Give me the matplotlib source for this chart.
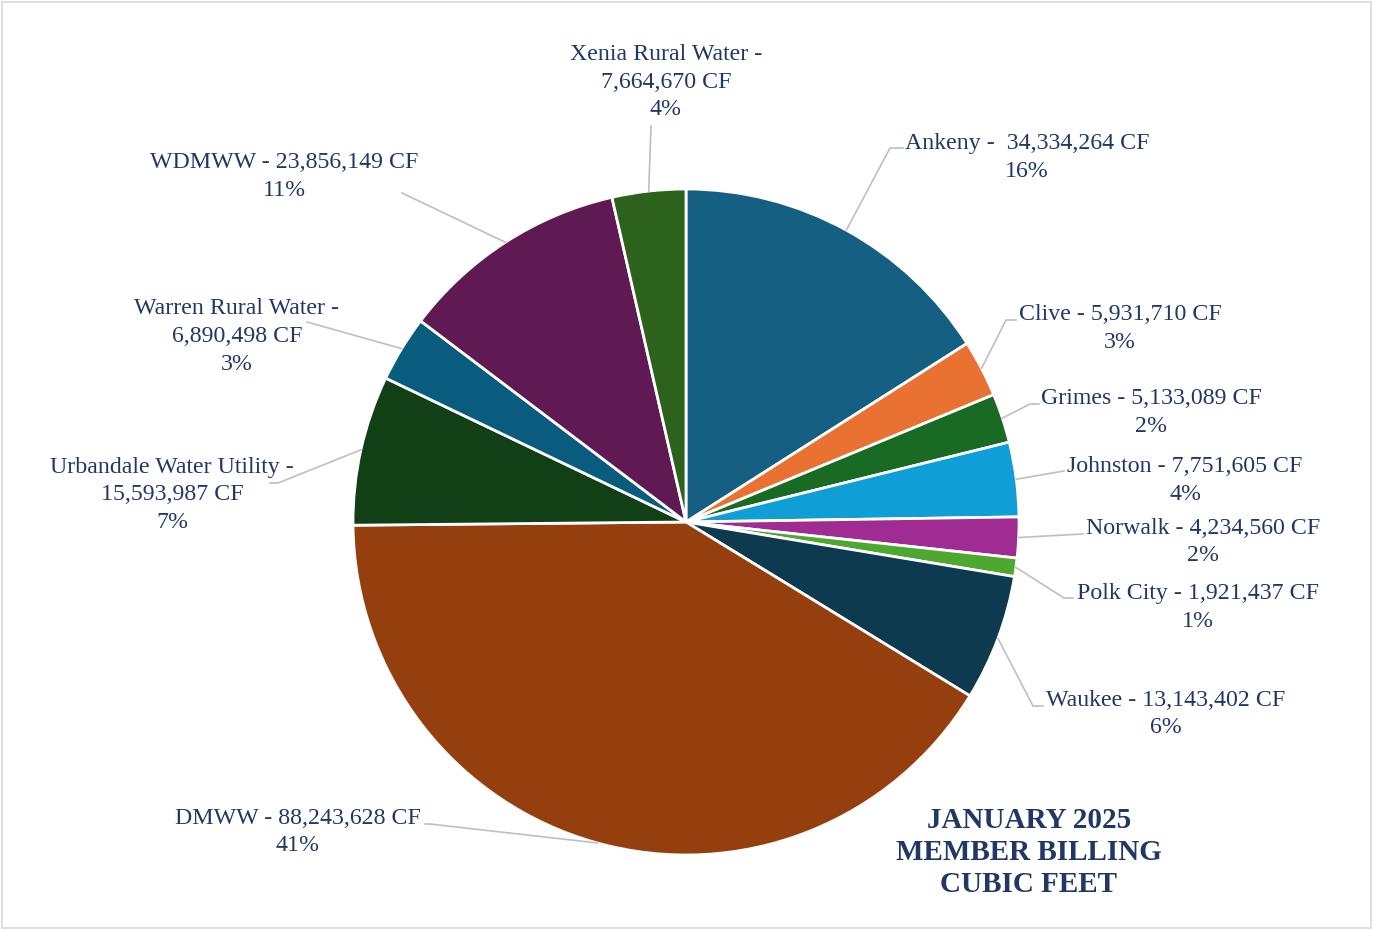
import matplotlib.pyplot as plt
import numpy as np
from matplotlib.patches import Rectangle

# Daten
members = ['Ankeny', 'Clive', 'Grimes', 'Johnston', 'Norwalk', 'Polk City', 'Waukee',
           'DMWW', 'Urbandale Water Utility', 'Warren Rural Water', 'WDMWW', 'Xenia Rural Water']
cubic_feet = [34334264, 5931710, 5133089, 7751605, 4234560, 1921437, 13143402,
              88243628, 15593987, 6890498, 23856149, 7664670]
colors = ['#156082', '#E97132', '#196B24', '#0F9ED5', '#A02B93', '#4EA72E', '#0D3A4F',
          '#953F0F', '#113F16', '#0A5C7E', '#5F1A54', '#2D621C']
title_lines = ['JANUARY 2025', 'MEMBER BILLING', 'CUBIC FEET']

W, H = 1373, 930
txt_col = '#1F3864'
serif = ['Liberation Serif', 'DejaVu Serif']

fig = plt.figure(figsize=(W/100, H/100), dpi=100)
ax = fig.add_axes([0, 0, 1, 1])

# Rahmen
fig.patches.append(Rectangle((2/W, 2/H), (W-4)/W, (H-4)/H, transform=fig.transFigure,
                             fill=False, edgecolor='#D9D9D9', linewidth=1.2))

cx, cy, r = 686, H - 522, 333
wedges, _ = ax.pie(cubic_feet, colors=colors, startangle=90, counterclock=False,
                   center=(cx, cy), radius=r, frame=True,
                   wedgeprops=dict(edgecolor='white', linewidth=2))
ax.set_xlim(0, W)
ax.set_ylim(0, H)
ax.set_aspect('equal')
ax.axis('off')

total = sum(cubic_feet)

# label layout: (text center x, first line y, elbow points...) in pixels from top
layout = {
    'Ankeny': (1027, 142, [(890, 148), (903, 148)]),
    'Clive': (1120, 313, [(1006, 320), (1016, 320)]),
    'Grimes': (1151, 397, [(1030, 404), (1039, 404)]),
    'Johnston': (1185, 465, [(1064, 471)]),
    'Norwalk': (1203, 526, [(1083, 534)]),
    'Polk City': (1198, 592, [(1064, 598), (1073, 598)]),
    'Waukee': (1166, 698, [(1033, 706), (1043, 706)]),
    'DMWW': (298, 816, [(430, 824), (425, 824)]),
    'Urbandale Water Utility': (172, 465, [(278, 483), (270, 483)]),
    'Warren Rural Water': (237, 307, [(307, 322)]),
    'WDMWW': (284, 161, [(402, 193)]),
    'Xenia Rural Water': (666, 53, [(651, 126)]),
}

for w, name, val in zip(wedges, members, cubic_feet):
    mid = np.deg2rad((w.theta1 + w.theta2) / 2)
    sx, sy = cx + r*np.cos(mid), cy + r*np.sin(mid)
    tx, ty, pts = layout[name]
    xs = [sx] + [p[0] for p in pts]
    ys = [sy] + [H - p[1] for p in pts]
    ax.plot(xs, ys, color='#BFBFBF', linewidth=1.2, zorder=1)

    pct = f'{round(val/total*100)}%'
    num = f'{val:,} CF'
    if name == 'Ankeny':
        lines = [f'{name} -  {num}', pct]
    elif name in ('Urbandale Water Utility', 'Warren Rural Water', 'Xenia Rural Water'):
        lines = [f'{name} -', num, pct]
    else:
        lines = [f'{name} - {num}', pct]
    for i, ln in enumerate(lines):
        ax.text(tx, H - (ty + 2 + i*27.5), ln, ha='center', va='center', fontsize=17.2,
                family=serif, color=txt_col)

for i, ln in enumerate(title_lines):
    ax.text(1029, H - (820 + i*32), ln, ha='center', va='center', fontsize=21,
            fontweight='bold', family=serif, color=txt_col)

plt.savefig('out.png', dpi=100)
